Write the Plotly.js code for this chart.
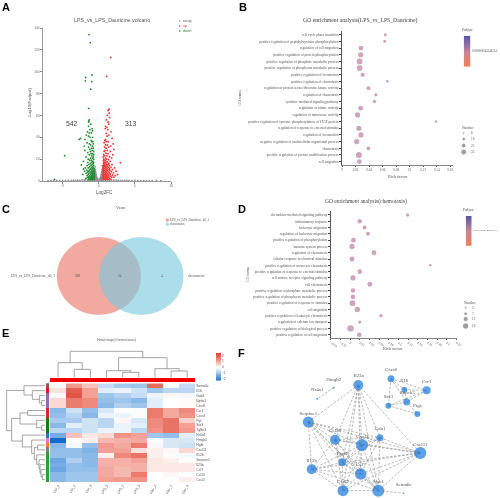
<!DOCTYPE html>
<html><head><meta charset="utf-8">
<script src="https://cdn.plot.ly/plotly-3.0.1.min.js"></script>
<style>html,body{margin:0;padding:0;background:#fff}#p{width:500px;height:498px;filter:blur(0.3px)}</style>
</head><body><div id="p"></div>
<script>
// ---------- Panel A: volcano points [log2FC, -log10(padj)] ----------
const downPoints=[[-1.34,134],[-1.16,126.6],[-.93,97],[-1.8,94.8],[-1.85,91.7],[-.97,91],[-1.1,84],[-1.39,66.4],[-4.7,23.2],[-6.1,1.5],
[-1.3,56],[-1.35,55],[-1.4,54],[-1.1,52],[-1.4,50],[-.9,48],[-1.2,47],[-.85,46],[-1.55,45],[-1.3,44],[-1,44],[-1.7,42],[-1.4,41],[-1.2,40],[-.85,40],[-2.5,39],[-2.7,38],[-1.9,38],[-1.05,37],[-.8,36],[-.95,36],[-1.6,35],[-1.3,34],[-.75,34],[-1.1,33],[-.85,32],[-2,32],[-1.4,31],[-.75,30],[-1,30],[-1.25,29],[-.9,28],[-1.9,28],[-.7,27],[-1.15,27],[-1.5,26],[-.85,25],[-1.05,25],[-.7,24],[-1.3,24],[-.95,23],[-1.75,22],[-.75,22],[-1.1,21],[-.85,21],[-1.45,20],[-.7,20],[-1,19],[-1.25,19],[-2.1,18],[-.8,18],[-.7,17],[-1.5,17],[-.95,17],[-1.15,16],[-.75,16],[-1.35,15],[-.9,15],[-2.4,14.7],[-.7,14],[-1.05,14],[-1.6,14],[-.85,13],[-1.25,13],[-.7,12],[-1,12],[-1.45,12],[-1.85,12],[-.6,11],[-.85,11],[-1.15,11],[-2.1,11],[-.7,10],[-.95,10],[-1.3,10],[-1.65,10],[-.6,9],[-.8,9],[-1.05,9],[-1.45,9],[-1.95,9],[-.65,8],[-.9,8],[-1.2,8],[-1.55,8],[-.6,7],[-.8,7],[-1,7],[-1.35,7],[-1.75,7],[-.65,6],[-.85,6],[-1.1,6],[-1.45,6],[-2.2,6],[-.6,5],[-.8,5],[-.95,5],[-1.25,5],[-1.6,5],[-.65,4],[-.85,4],[-1.05,4],[-1.35,4],[-.6,3.3],[-.8,3.3],[-1,3.3],[-1.2,3.3],[-1.5,3.3],[-.65,2.5],[-.9,2.5],[-1.1,2.5],[-1.35,2.5],[-1.75,2.5],[-.6,1.8],[-.8,1.8],[-1,1.8],[-1.25,1.8],[-.7,1.2],[-.9,1.2],[-1.15,1.2],[-1.45,1.2]];
const upPoints=[[1.67,113],[1.1,95.7],[1.43,65.7],[1.3,64.5],[1.45,62],[1.2,60],[1.5,58],[1.05,56],[1.3,54],[1.4,52],[.95,50],[1.15,49],[.9,48],[1.25,47],[1.7,45],[1.05,43.5],[1.4,42],[1.15,41],[1.85,39],[.95,38],[.85,37],[1.3,36],[1.05,36],[.75,35],[2,34],[1.2,33],[.95,33],[1.65,32],[.8,31],[1.4,31],[1.05,30],[2.1,29],[.9,28],[1.2,28],[1.6,27],[.75,27],[1,25.5],[1.3,25],[1.95,24],[.7,24],[.85,23],[1.15,23],[.65,22],[1.5,22],[.95,21],[1.8,21],[.7,20],[1.1,20],[1.35,19.5],[.85,19],[.65,18.5],[1,18],[1.6,18],[1.2,17.5],[3,16.8],[.75,17],[.95,16.5],[1.4,16],[.65,16],[.85,15.5],[1.1,15.5],[1.3,15],[1.85,15],[.7,14.5],[1,14],[1.5,14],[.6,13.5],[.85,13.5],[1.2,13.5],[.7,12.5],[1,12.5],[1.35,12.5],[1.7,12.5],[2.2,12],[.6,11.5],[.85,11.5],[1.15,11.5],[1.5,11],[.7,10.5],[1,10.5],[1.3,10.5],[1.9,10.5],[.6,9.5],[.85,9.5],[1.15,9.5],[1.55,9.5],[2.4,9],[.7,8.5],[1,8.5],[1.3,8.5],[1.75,8.5],[.6,7.5],[.85,7.5],[1.1,7.5],[1.45,7.5],[2.05,7.5],[.7,6.5],[.95,6.5],[1.25,6.5],[1.6,6.5],[2.6,6],[.6,5.5],[.85,5.5],[1.1,5.5],[1.4,5.5],[1.9,5.5],[2.3,5],[.7,4.5],[.95,4.5],[1.2,4.5],[1.6,4.5],[.6,3.5],[.85,3.5],[1.05,3.5],[1.35,3.5],[1.8,3.5],[2.1,3.5],[.7,2.5],[.95,2.5],[1.2,2.5],[1.5,2.5],[.6,1.5],[.85,1.5],[1.1,1.5],[1.35,1.5],[1.7,1.5]];
const nosigPoints=[[-.5,13],[-.55,11],[-.45,10],[-.5,8.5],[-.4,8],[-.55,7],[-.45,6.5],[-.35,6],[-.5,5],[-.4,4.5],[-.3,4.5],[-.55,3.5],[-.45,3.5],[-.35,3],[-.25,3],[-.5,2.3],[-.4,2.3],[-.3,2],[-.2,2],[-.12,1.6],[.5,14],[.55,12],[.45,10.5],[.5,9],[.4,8],[.55,7.5],[.45,6.5],[.35,6],[.5,5],[.4,4.5],[.3,4.5],[.55,3.5],[.45,3.5],[.35,3],[.25,3],[.5,2.3],[.4,2.3],[.3,2],[.2,2],[.12,1.6],
[-7,.4],[-6.6,.5],[-6.2,.4],[-5.8,.5],[-5.4,.4],[-5,.6],[-4.6,.4],[-4.2,.6],[-3.8,.5],[-3.5,.7],[-3.2,.5],[-2.9,.8],[-2.6,.6],[-2.3,.9],[-2,.7],[-1.8,1],[-1.5,.6],[-1.2,.5],[-.9,.5],[-.6,.6],[-.4,.9],[-.2,.8],[0,.5],[.2,.8],[.4,.9],[.6,.6],[.9,.5],[1.2,.5],[1.5,.6],[1.8,.9],[2.1,.8],[2.4,.7],[2.7,.7],[3,.6],[3.3,.6],[3.6,.5],[3.9,.5],[4.2,.5],[4.6,.4],[5,.5],[5.4,.4],[5.8,.4],[6.2,.4],[6.6,.4],[7,.4],[7.4,.4],[8,.5],[8.6,.4]];
const countDown="542",countUp="313";

// ---------- Panel B ----------
const bTerms=["cell cycle phase transition","positive regulation of peptidyl-tyrosine phosphorylation","regulation of cell migration","positive regulation of protein phosphorylation","positive regulation of phosphate metabolic process","positive regulation of phosphorus metabolic process","positive regulation of locomotion","positive regulation of chemotaxis","regulation of protein serine/threonine kinase activity","regulation of chemotaxis","cytokine-mediated signaling pathway","regulation of kinase activity","regulation of transferase activity","positive regulation of tyrosine phosphorylation of STAT protein","regulation of response to external stimulus","regulation of locomotion","negative regulation of multicellular organismal process","chemotaxis","positive regulation of protein modification process","cell migration"];
const bRich=[.064,.063,.028,.0276,.026,.026,.0305,.067,.039,.05,.048,.0276,.023,.139,.025,.028,.0217,.039,.025,.0256];
const bNumber=[10,10,25,28,33,33,20,8,18,12,13,25,28,6,28,28,30,16,35,25];
const bLegendNumbers=[6,16,25,35];

// ---------- Panel D ----------
const dTerms=["chemokine-mediated signaling pathway","inflammatory response","leukocyte migration","regulation of leukocyte migration","positive regulation of phosphorylation","immune system process","regulation of chemotaxis","cellular response to chemical stimulus","positive regulation of monocyte chemotaxis","positive regulation of response to external stimulus","cell surface receptor signaling pathway","cell chemotaxis","positive regulation of phosphate metabolic process","positive regulation of phosphorus metabolic process","positive regulation of response to stimulus","cell migration","positive regulation of leukocyte chemotaxis","regulation of calcium ion transport","positive regulation of biological process","positive regulation of cell migration"];
const dRich=[.119,.02,.03,.037,.007,.004,.0495,.004,.166,.02,.006,.041,.006,.006,.005,.015,.064,.02,.001,.019];
const dNumber=[6,10,8,8,10,12,11,11,3,10,12,11,10,10,14,13,6,5,16,10];
const dLegendNumbers=[3,7,12,16];

// ---------- Panel C ----------
const vennCounts=["269","24","4"];
const vennSets=["LPS_vs_LPS_Dauricine_all_1","chemotaxis"];

// ---------- Panel E ----------
const heatCols=["Ctrl_1","Ctrl_2","Ctrl_3","LPS_1","LPS_2","LPS_3","Dau_1","Dau_2","Dau_3"];
const heatRows=["Sema6c","Il16","Gab1","Nphs1","Cxcr6","Ccr1","Cxcr4","Pgf","Stx3","Tgfbr3","Nr4a1","Hmgb2","Hgfb","Cxcl11","Il12b","Serpine1","Il23a","Ccl7","Ccl20","Cxcl2"];
const heatValues=[
[.1,1.3,.8,-.6,-.9,-1,1.9,0,-.6],
[.4,2.1,1.2,-.3,-.2,-.5,-1,-.7,-.7],
[.05,2.2,1.2,-1,-.8,-.6,-.2,.1,-.1],
[.5,1.7,1.5,-1.1,-1,-1.2,-.3,0,.05],
[.5,1.7,1.5,-1.2,-.8,-1,-.3,0,.05],
[-1.2,-.5,-1.1,-.4,0,-.05,1.7,1.1,1.5],
[-1.1,-.7,-1.2,-.2,-.2,.05,1.7,1.1,1.4],
[-.9,-.9,-.5,-.7,.1,-.4,1.5,1.8,.6],
[-1.2,-.3,-.5,-.7,-.2,-.3,1.5,1.8,1.2],
[-.7,-.7,-.5,-.2,-.2,-.7,1.4,1.8,1.3],
[-1.4,.8,.3,.5,1.4,1.2,-1,-1.1,-.3],
[-2.4,0,.2,.9,1,1.1,-.05,-.4,-.4],
[-1.2,-.1,-1.1,1.3,1.1,1.7,-.1,-.4,-.5],
[-1.1,-1.1,-1.3,1.2,1.2,.4,.2,.1,.5],
[-1.1,-1.1,-1.2,.2,1.5,1.8,.2,.05,-.1],
[-1.5,-.8,-1.2,1,1,1.2,.3,.2,0],
[-1.4,-1.1,-1.2,1,1,1,.3,.3,.3],
[-1.5,-1.1,-1.1,1.1,.9,1,.3,.3,.3],
[-1.2,-1,-1,1.1,.9,1.7,0,.1,0],
[-1.2,-1,-1,1.2,1.3,1.4,0,0,.2]];
const rowClusterColors=["#8c564b","#f01010","#9467bd","#9467bd","#9467bd","#d62728","#d62728","#0a7d0a","#0a7d0a","#0a7d0a","#1f77b4","#e377c2","#ff7f0e","#7f7f7f","#2ca02c","#2ca02c","#2ca02c","#2ca02c","#2ca02c","#2ca02c"];
// dendrogram merges: [pos1,height1,pos2,height2,mergeHeight]
const colMerges=[[1,0,2,0,25],[0,0,1.5,25,45],[4,0,5,0,16],[3,0,4.5,16,21],[7,0,8,0,20],[6,0,7.5,20,27],[3.75,21,6.75,27,60],[.75,45,5.25,60,79]];
const rowMerges=[[3,0,4,0,10],[2,0,3.5,10,17],[1,0,2.75,17,38],[0,0,1.875,38,63],[5,0,6,0,52],[8,0,9,0,10],[7,0,8.5,10,25],[5.5,52,7.75,25,75],[18,0,19,0,8],[17,0,18.5,8,12],[16,0,17.75,12,15],[15,0,16.9,15,18],[14,0,15.9,18,25],[12,0,13,0,22],[12.5,22,14.95,25,32],[11,0,13.7,32,40],[10,0,12.4,40,68],[6.6,75,11.2,68,100],[.94,63,9.1,100,115]];
const heatScaleTicks=[2,1,0,-1,-2];

// ---------- Panel F ----------
const netNames=["Il23a","Hmgb2","Nr4a1","Cxcr6","Il16","Ccr1","Stx3","Spock3","Ptgs","Serpine1","Ccl20","Cxcl3","Gab1","Cxcl11","Il12b","Ptgs2","Ccl7","Cxcl2","Stab1","Sema6c"];
const netX=[295,221,172,393,433,500,385,440,472,145,225,306,360,481,155,247,302,249,355,431];
const netY=[180,188,221,161,194,196,242,231,267,291,344,360,338,384,433,412,447,497,497,505];
const netSize=[10,2,2,7,6,8,6,7,6,11,10,12,7,12,10,8,11.5,11,12,1.5];
const netLabelX=[296,221,172,393,433,500,385,442,472,145,225,307,360,481,155,247,302,249,355,431];
const netLabelY=[153,163,194,135,168,171,216,204,242,265,318,335,311,360,408,386,420,470,471,480];
const netEdges=[["Hmgb2","Nr4a1"],["Cxcr6","Il16"],["Cxcr6","Ccr1"],["Cxcr6","Stx3"],["Cxcr6","Spock3"],["Il16","Ccr1"],["Il16","Spock3"],["Ccr1","Spock3"],["Ccr1","Stx3"],["Stx3","Spock3"],["Stx3","Ptgs"],["Spock3","Ptgs"],
["Il23a","Serpine1"],["Il23a","Ccl20"],["Il23a","Ptgs2"],["Il23a","Cxcl3"],["Il23a","Ccl7"],["Il23a","Cxcl2"],["Il23a","Stab1"],["Il23a","Gab1"],["Il23a","Cxcl11"],
["Serpine1","Il12b"],["Serpine1","Ccl20"],["Serpine1","Cxcl3"],["Serpine1","Ptgs2"],["Serpine1","Ccl7"],["Serpine1","Cxcl2"],["Serpine1","Stab1"],["Serpine1","Cxcl11"],["Serpine1","Gab1"],
["Ccl20","Cxcl3"],["Ccl20","Gab1"],["Ccl20","Cxcl11"],["Ccl20","Il12b"],["Ccl20","Ptgs2"],["Ccl20","Ccl7"],["Ccl20","Cxcl2"],["Ccl20","Stab1"],
["Cxcl3","Gab1"],["Cxcl3","Cxcl11"],["Cxcl3","Il12b"],["Cxcl3","Ptgs2"],["Cxcl3","Ccl7"],["Cxcl3","Cxcl2"],["Cxcl3","Stab1"],
["Gab1","Cxcl11"],["Gab1","Ptgs2"],["Gab1","Ccl7"],["Gab1","Stab1"],
["Cxcl11","Il12b"],["Cxcl11","Ptgs2"],["Cxcl11","Ccl7"],["Cxcl11","Cxcl2"],["Cxcl11","Stab1"],
["Il12b","Ptgs2"],["Il12b","Ccl7"],["Il12b","Cxcl2"],["Il12b","Stab1"],
["Ptgs2","Ccl7"],["Ptgs2","Cxcl2"],["Ptgs2","Stab1"],["Ccl7","Cxcl2"],["Ccl7","Stab1"],["Cxcl2","Stab1"],["Stab1","Sema6c"]];

// ---------- helpers ----------
const SANS="Liberation Sans, Arial, sans-serif", SERIF="Liberation Serif, Times New Roman, serif";
const W=500,H=498;
const layout={width:W,height:H,margin:{l:0,r:0,t:0,b:0},paper_bgcolor:"#fff",plot_bgcolor:"rgba(0,0,0,0)",showlegend:false,bargap:0,annotations:[],shapes:[]};
function axes(n,x0,x1,yTop,yBot,xo,yo){
  const base={anchor:undefined,showgrid:false,zeroline:false};
  layout["xaxis"+n]=Object.assign({},base,{domain:[x0/W,x1/W],anchor:"y"+n},xo);
  layout["yaxis"+n]=Object.assign({},base,{domain:[1-yBot/H,1-yTop/H],anchor:"x"+n},yo);
}
const hidden={visible:false,fixedrange:true};
const dotBlue="#1877dc";
const PAGE=13;
function txt(x,y,text,size,color,font,anchor,angle){
  layout.annotations.push({xref:"x"+PAGE,yref:"y"+PAGE,x,y,text,showarrow:false,xanchor:anchor||"center",yanchor:"middle",textangle:angle||0,font:{size,color:color||"#444",family:font||SANS},borderpad:0,borderwidth:0});
}
const traces=[];

// A
axes(1,43,171,28,181,
 {range:[-7.7,10],tickvals:[-5,0,5,10],ticks:"outside",ticklen:1.5,tickcolor:"#888",linecolor:"#999",linewidth:1,showline:true,tickfont:{size:3.2,color:"#666",family:SANS}},
 {range:[0,140],dtick:20,ticks:"outside",ticklen:1.5,tickcolor:"#888",linecolor:"#999",linewidth:1.2,showline:true,tickfont:{size:3.2,color:"#666",family:SANS}});
function volc(pts,col){traces.push({type:"scatter",mode:"markers",x:pts.map(p=>p[0]),y:pts.map(p=>p[1]),xaxis:"x",yaxis:"y",cliponaxis:false,marker:{size:1.8,color:col,line:{width:0}},hoverinfo:"skip"});}
volc(nosigPoints,"#8d8d8d");volc(downPoints,"#1f8a2e");volc(upPoints,"#f22a2a");

// B, D dot plots
const dotCol="#b97f9f";
function dotAxes(n,x0,x1,yT,yB,xr,yr,dt,terms){
  axes(n,x0,x1,yT,yB,
   {range:xr,dtick:.02,tick0:0,ticks:"outside",ticklen:1.5,tickcolor:"#555",linecolor:"#666",linewidth:.8,showline:true,tickfont:{size:3.2,color:"#555",family:SERIF},tickformat:"~r"},
   {type:"linear",range:yr,tickvals:terms.map((t,i)=>i),ticktext:terms,ticks:"outside",ticklen:1.5,tickcolor:"#444",linecolor:"#555",linewidth:1.2,showline:true,tickfont:{size:3.55,color:"#555",family:SERIF}});
}
dotAxes(2,342,453,31,165,[0,.164],[19.5,-.55],.02,bTerms);
dotAxes(3,330.7,457,211,337.7,[-.04,.221],[19.48,-.63],.02,dTerms);
const bSize=n=>1.8+.12*n, dSize=n=>1.6+.3*n;
traces.push({type:"scatter",mode:"markers",x:bRich,y:bTerms.map((t,i)=>i),xaxis:"x2",yaxis:"y2",marker:{size:bNumber.map(bSize),color:dotCol,line:{width:0}},hoverinfo:"skip"});
traces.push({type:"scatter",mode:"markers",x:dRich,y:dTerms.map((t,i)=>i),xaxis:"x3",yaxis:"y3",marker:{size:dNumber.map(dSize),color:dotCol,line:{width:0}},hoverinfo:"skip"});

// E heatmap
const heatScale=[[0,"#0f6cc8"],[.25,"#8ab9e8"],[.5,"#ffffff"],[.75,"#f3a195"],[1,"#df4636"]];
axes(4,50,195.3,383.3,482,
 {range:[-.5,8.5],tickvals:heatCols.map((c,i)=>i),ticktext:heatCols,tickangle:-60,ticks:"",tickfont:{size:3.4,color:"#555",family:SANS},showline:false},
 {range:[19.5,-.5],side:"right",tickvals:heatRows.map((c,i)=>i),ticktext:heatRows,ticks:"",tickfont:{size:3.4,color:"#555",family:SANS},showline:false});
traces.push({type:"heatmap",z:heatValues,x:heatCols.map((c,i)=>i),y:heatRows.map((c,i)=>i),xaxis:"x4",yaxis:"y4",zmin:-2.4,zmax:2.4,colorscale:heatScale,showscale:false,hoverinfo:"skip"});
// cluster side bar and top annotation bar
axes(5,45.7,49.3,383.3,482,Object.assign({range:[0,1]},hidden),Object.assign({range:[19.5,-.5]},hidden));
traces.push({type:"bar",orientation:"h",x:heatRows.map(()=>1),y:heatRows.map((c,i)=>i),xaxis:"x5",yaxis:"y5",width:1,marker:{color:rowClusterColors,line:{width:0}},hoverinfo:"skip"});
axes(6,50,195.3,377.7,382.3,Object.assign({range:[-.5,8.5]},hidden),Object.assign({range:[0,1]},hidden));
traces.push({type:"bar",x:heatCols.map((c,i)=>i),y:heatCols.map(()=>1),xaxis:"x6",yaxis:"y6",width:1,marker:{color:"#f00000",line:{width:0}},hoverinfo:"skip"});
// dendrograms
function dendro(m){const a=[],b=[];m.forEach(([p1,h1,p2,h2,h])=>{a.push(p1,p1,p2,p2,null);b.push(h1,h,h,h2,null);});return[a,b];}
axes(7,5,45,383.3,482,Object.assign({range:[120,0]},hidden),Object.assign({range:[19.5,-.5]},hidden));
let rd=dendro(rowMerges);
traces.push({type:"scatter",mode:"lines",x:rd[1],y:rd[0],xaxis:"x7",yaxis:"y7",line:{color:"#8e8e8e",width:.8},hoverinfo:"skip"});
axes(8,50,195.3,349.3,377.7,Object.assign({range:[-.5,8.5]},hidden),Object.assign({range:[0,85]},hidden));
let cd=dendro(colMerges);
traces.push({type:"scatter",mode:"lines",x:cd[0],y:cd[1],xaxis:"x8",yaxis:"y8",line:{color:"#8e8e8e",width:.8},hoverinfo:"skip"});

// colour bars
const padjScale=[[0,"#f07f4f"],[.5,"#c98599"],[1,"#5457a8"]];
const padjLevels=[[0,0],[.25,.25],[.5,.5],[.75,.75],[1,1]];
axes(9,463.7,470.3,35.7,66.7,Object.assign({range:[0,1]},hidden),Object.assign({range:[0,1]},hidden));
traces.push({type:"heatmap",z:padjLevels,x:[0,1],y:[0,.25,.5,.75,1],xaxis:"x9",yaxis:"y9",colorscale:padjScale,zmin:0,zmax:1,zsmooth:"best",showscale:false,hoverinfo:"skip"});
axes(10,465.7,471.7,216,245.7,Object.assign({range:[0,1]},hidden),Object.assign({range:[0,1]},hidden));
traces.push({type:"heatmap",z:padjLevels,x:[0,1],y:[0,.25,.5,.75,1],xaxis:"x10",yaxis:"y10",colorscale:padjScale,zmin:0,zmax:1,zsmooth:"best",showscale:false,hoverinfo:"skip"});
axes(11,216,221,352.7,380.7,Object.assign({range:[0,1]},hidden),
 {range:[-2.4,2.5],side:"right",tickvals:heatScaleTicks,ticks:"",showline:false,tickfont:{size:3.2,color:"#555",family:SANS}});
layout.xaxis11.visible=false;
traces.push({type:"heatmap",z:[[-2.4,-2.4],[-1,-1],[0,0],[1,1],[2.5,2.5]],x:[0,1],y:[-2.4,-1,0,1,2.5],xaxis:"x11",yaxis:"y11",colorscale:heatScale,zmin:-2.4,zmax:2.4,zsmooth:"best",showscale:false,hoverinfo:"skip"});

// F network
axes(12,260,500,325,498,Object.assign({range:[0,720]},hidden),Object.assign({range:[519,0]},hidden));
const ex=[],ey=[];netEdges.forEach(([a,b])=>{const i=netNames.indexOf(a),j=netNames.indexOf(b);ex.push(netX[i],netX[j],null);ey.push(netY[i],netY[j],null);});
traces.push({type:"scatter",mode:"lines",x:ex,y:ey,xaxis:"x12",yaxis:"y12",line:{color:"#8c8c8c",width:.6,dash:"2.5px,1.5px"},hoverinfo:"skip"});
traces.push({type:"scatter",mode:"markers",x:netX,y:netY,xaxis:"x12",yaxis:"y12",marker:{size:netSize,color:dotBlue,line:{width:0}},hoverinfo:"skip"});
traces.push({type:"scatter",mode:"text",x:netLabelX,y:netLabelY,text:netNames,textposition:"middle center",textfont:{size:5,color:"#555",family:SERIF},xaxis:"x12",yaxis:"y12",hoverinfo:"skip"});

// page overlay in pixels: titles, legends, Venn
axes(PAGE,0,W,0,H,Object.assign({range:[0,W]},hidden),Object.assign({range:[H,0]},hidden));
// Legend dots
traces.push({type:"scatter",mode:"markers",x:[179.7,179.7,179.7],y:[21,26,31],xaxis:"x13",yaxis:"y13",marker:{size:1.6,color:["#8d8d8d","#f22a2a","#1f8a2e"]},hoverinfo:"skip"});
traces.push({type:"scatter",mode:"markers",x:bLegendNumbers.map(()=>463.7),y:[133,139,145.5,152],xaxis:"x13",yaxis:"y13",marker:{size:bLegendNumbers.map(bSize),color:"#777"},hoverinfo:"skip"});
traces.push({type:"scatter",mode:"markers",x:dLegendNumbers.map(()=>465.7),y:[307.7,313.7,319,326],xaxis:"x13",yaxis:"y13",marker:{size:dLegendNumbers.map(dSize),color:"#777"},hoverinfo:"skip"});
traces.push({type:"scatter",mode:"markers",x:[167.3,167.3],y:[220,224.3],xaxis:"x13",yaxis:"y13",marker:{size:3.5,color:["#f0a79c","#a8dae8"]},hoverinfo:"skip"});
// Venn
layout.shapes.push({type:"circle",xref:"x13",yref:"y13",x0:56.7,x1:141,y0:237,y1:315,fillcolor:"rgba(232,112,96,.6)",line:{width:0},layer:"below"});
layout.shapes.push({type:"circle",xref:"x13",yref:"y13",x0:99,x1:183.5,y0:237,y1:315,fillcolor:"rgba(120,200,222,.62)",line:{width:0},layer:"below"});

// Text
txt(111.7,19.7,"LPS_vs_LPS_Dauricine.volcano",5.3,"#555");
txt(183,21,"nosig",3.6,"#666",SANS,"left");txt(183,26,"up",3.6,"#e33",SANS,"left");txt(183,31,"down",3.6,"#2a8a3a",SANS,"left");
txt(71.7,123.7,countDown,6.8,"#444");txt(130.7,123.7,countUp,6.8,"#444");
txt(29,103,"-Log10(Padjust)",4.2,"#555",SANS,"center",-90);txt(104,192,"Log2FC",4.6,"#555");
txt(360,20,"GO enrichment analysis(LPS_vs_LPS_Dauricine)",5.7,"#444",SERIF);
txt(238.7,98,"GO terms",4,"#555",SERIF,"center",-90);txt(398,176,"Rich factor",4.3,"#555",SERIF);
txt(467.7,29.7,"Padjust",3.6,"#555",SERIF);txt(472,51,"0.000000243546354",3,"#555",SERIF,"left");
txt(468,128,"Number",3.6,"#555",SERIF);
bLegendNumbers.forEach((n,i)=>txt(471,[133,139,145.5,152][i],String(n),3.3,"#555",SERIF,"left"));
txt(366,201,"GO enrichment analysis(chemotaxis)",5.5,"#444",SERIF);
txt(248,275,"GO terms",3.8,"#555",SERIF,"center",-90);txt(393,348.7,"Rich factor",4.3,"#555",SERIF);
txt(468.5,210,"Padjust",3.6,"#555",SERIF);txt(473,230.3,"0.000129434252357",2.9,"#555",SERIF,"left");
txt(470,302.7,"Number",3.6,"#555",SERIF);
dLegendNumbers.forEach((n,i)=>txt(472,[307.7,313.7,319,326][i],String(n),3.3,"#555",SERIF,"left"));
txt(121,207.3,"Venn",4.6,"#555",SERIF);
txt(170,220,vennSets[0],3.2,"#555",SERIF,"left");txt(170,224.3,vennSets[1],3.2,"#555",SERIF,"left");
txt(32.7,276,vennSets[0],3.6,"#555",SERIF);txt(196,276,vennSets[1],3.6,"#555",SERIF);
txt(77.7,276,vennCounts[0],3.4,"#555",SERIF);txt(120,276,vennCounts[1],3.4,"#555",SERIF);txt(162,276,vennCounts[2],3.4,"#555",SERIF);
txt(116.7,339,"Heatmap(chemotaxis)",4,"#666");
[["A",5.5,7],["B",243,6.5],["C",5.5,209],["D",242,209],["E",5.5,333],["F",241.7,353]].forEach(l=>txt(l[1],l[2],l[0],11,"#000",SANS+";font-weight:bold"));
layout.annotations.slice(-6).forEach(a=>{a.text="<b>"+a.text+"</b>";a.font.family=SANS;});

Plotly.newPlot("p",traces,layout,{staticPlot:true,displayModeBar:false});
</script></body></html>
